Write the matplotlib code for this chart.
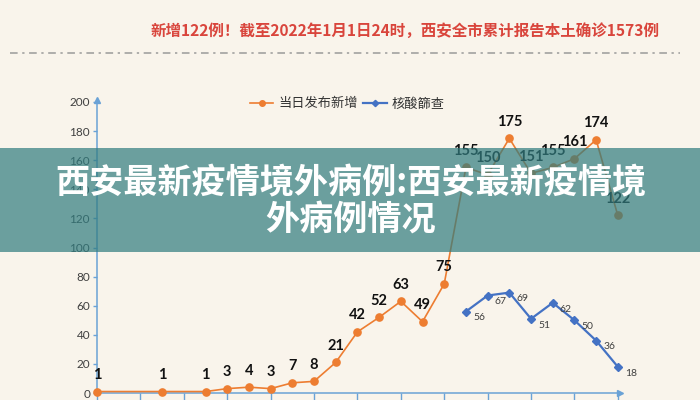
import numpy as np
import matplotlib
matplotlib.use("Agg")
import matplotlib.pyplot as plt
from matplotlib.lines import Line2D
from matplotlib.patches import Rectangle

# ---- data ----
slots = list(range(25))
daily_new = [1, None, None, 1, None, 1, 3, 4, 3, 7, 8, 21, 42, 52, 63, 49, 75,
             155, 150, 175, 151, 155, 161, 174, 122]
screening = [None] * 17 + [56, 67, 69, 51, 62, 50, 36, 18]
y_ticks = [0, 20, 40, 60, 80, 100, 120, 140, 160, 180, 200]
series_names = ["当日发布新增", "核酸篩查"]
title_text = "新增122例！截至2022年1月1日24时，西安全市累计报告本土确诊1573例"
banner_lines = ["西安最新疫情境外病例:西安最新疫情境", "外病例情况"]

BG = "#f9f4eb"
ORANGE = "#ed7d31"
BLUE = "#4472c4"
AXIS = "#6aa2d6"
CJK = ["Noto Sans CJK SC", "DejaVu Sans"]

plt.rcParams["font.family"] = CJK

fig = plt.figure(figsize=(7, 4), dpi=100, facecolor=BG)
W, H = 700, 400
x0, x1 = 97, 620
ax = fig.add_axes([x0 / W, (H - 393) / H, (x1 - x0) / W, (393 - 102) / H])
ax.set_facecolor(BG)
ax.set_xlim(0, 24.1)
ax.set_ylim(0, 200)

def pairs(vals):
    xs = [s for s, v in zip(slots, vals) if v is not None]
    ys = [v for v in vals if v is not None]
    return xs, ys

ox, oy = pairs(daily_new)
bx, by = pairs(screening)
ax.plot(ox, oy, color=ORANGE, lw=1.2, marker="o", ms=5.2, clip_on=False, zorder=3)
ax.plot(bx, by, color=BLUE, lw=1.6, marker="D", ms=4.0, clip_on=False, zorder=3)

for x, y in zip(ox, oy):
    ax.annotate(str(y), (x, y), xytext=(0, 12), textcoords="offset points",
                ha="center", va="center", fontsize=10.5, fontweight="bold",
                family=["Lato", "DejaVu Sans"], color="#111111", zorder=4)
for x, y in zip(bx, by):
    ax.annotate(str(y), (x, y), xytext=(9.5, -4.5), textcoords="offset points",
                ha="center", va="center", fontsize=7.5,
                family=["Lato", "DejaVu Sans"], color="#404040", zorder=4)

for s in ["top", "right"]:
    ax.spines[s].set_visible(False)
for s in ["left", "bottom"]:
    ax.spines[s].set_color(AXIS)
    ax.spines[s].set_linewidth(1.1)
ax.set_yticks(y_ticks)
ax.set_yticklabels([str(t) for t in y_ticks], family=["Lato", "DejaVu Sans"],
                   fontsize=8.5, color="#404040")
ax.tick_params(axis="y", length=3, color=AXIS, width=1, pad=2)
ax.set_xticks(list(range(0, 25, 2)))
ax.set_xticklabels([])
ax.tick_params(axis="x", length=6, color=AXIS, width=1)
ax.plot(1, 0, ">", color=AXIS, ms=5, transform=ax.transAxes, clip_on=False)
ax.plot(0, 1.006, "^", color=AXIS, ms=5, transform=ax.transAxes, clip_on=False)

handles = [Line2D([], [], color=ORANGE, lw=1.2, marker="o", ms=4),
           Line2D([], [], color=BLUE, lw=1.6, marker="D", ms=3.2)]
fig.legend(handles, series_names, loc="center", bbox_to_anchor=(347 / W, 1 - 104 / H),
           ncol=2, frameon=False, fontsize=9.5, handlelength=1.8, handletextpad=0.35,
           columnspacing=0.4, labelcolor="#333333")

fig.text(405 / W, 1 - 31 / H, title_text, ha="center", va="center", fontsize=11.2,
         fontweight="bold", color="#d9453c")
fig.add_artist(Line2D([10 / W, 680 / W], [1 - 53 / H, 1 - 53 / H], color="#9a9a9a",
                      lw=1.1, dashes=(5, 3, 1.5, 3)))

fig.add_artist(Rectangle((0, (H - 252) / H), 1, 104 / H, transform=fig.transFigure,
                         facecolor="#317c7f", alpha=0.71, edgecolor="none", zorder=10))
fig.text(351 / W, 1 - 183 / H, banner_lines[0], ha="center", va="center",
         fontsize=24.6, fontweight="heavy", color="white", zorder=11)
fig.text(351 / W, 1 - 219 / H, banner_lines[1], ha="center", va="center",
         fontsize=24.6, fontweight="heavy", color="white", zorder=11)

fig.savefig("out.png", dpi=100, facecolor=BG)
